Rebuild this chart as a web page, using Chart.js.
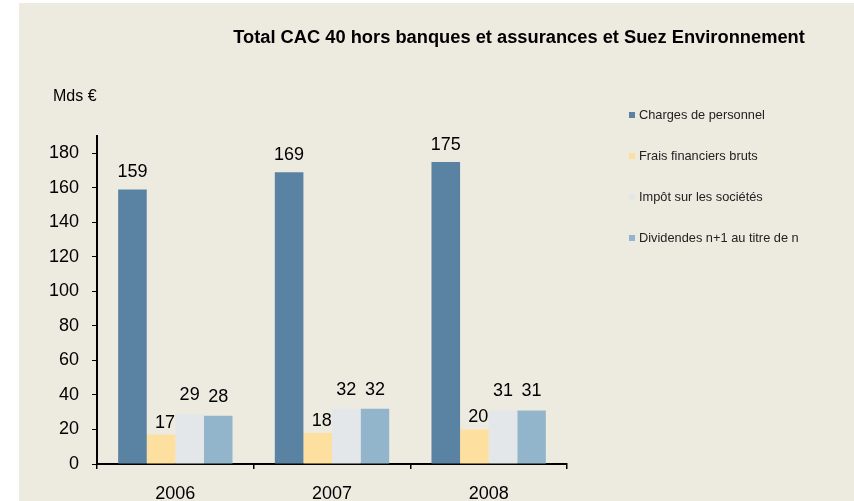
<!DOCTYPE html>
<html>
<head>
<meta charset="utf-8">
<script src="https://cdn.jsdelivr.net/npm/chart.js@4/dist/chart.umd.min.js"></script>
<style>
    html, body { margin: 0; padding: 0; background: #fff; }
    #wrap { position: absolute; left: 19px; top: 3px; width: 835px; height: 498px; background: #EDEAE0; }
</style>
</head>
<body>
<div id="wrap"><canvas id="chart"></canvas></div>
<script>
const years = ['2006', '2007', '2008'];
const seriesNames = ['Charges de personnel', 'Frais financiers bruts', 'Impôt sur les sociétés', 'Dividendes n+1 au titre de n'];
const chargesPersonnel = [159, 169, 175];
const fraisFinanciers = [17, 18, 20];
const impotSocietes = [29, 32, 31];
const dividendes = [28, 32, 31];
const yTicks = [0, 20, 40, 60, 80, 100, 120, 140, 160, 180];
const chartTitle = 'Total CAC 40 hors banques et assurances et Suez Environnement';
const unitLabel = 'Mds €';

const colors = ['#5A82A3', '#FDDFA0', '#E4E7EA', '#93B5CC'];
const labelOffsets = [17, 12, 19, 19];
const labelShifts = [0, 4, 0, 0];
const font = "'Liberation Sans', Arial, sans-serif";

// title, unit, legend and value labels drawn on the canvas
const extras = {
    id: 'extras',
    afterDatasetsDraw(chart) {
        const ctx = chart.ctx;
        ctx.save();
        ctx.fillStyle = '#000';
        ctx.textAlign = 'center';
        ctx.textBaseline = 'middle';
        ctx.font = '18px ' + font;
        chart.data.datasets.forEach((ds, i) => {
            chart.getDatasetMeta(i).data.forEach((bar, j) => {
                ctx.fillText(ds.data[j], bar.x + labelShifts[i], bar.y - labelOffsets[i]);
            });
        });

        ctx.font = 'bold 18.3px ' + font;
        ctx.fillText(chartTitle, 500, 35);

        ctx.textAlign = 'left';
        ctx.font = '16px ' + font;
        ctx.fillText(unitLabel, 34, 94);

        ctx.font = '12.8px ' + font;
        chart.data.datasets.forEach((ds, i) => {
            let y = 112 + i * 41;
            ctx.fillStyle = ds.backgroundColor;
            ctx.fillRect(610, y - 3, 6, 6);
            ctx.fillStyle = '#222';
            ctx.fillText(ds.label, 620, y);
        });
        ctx.restore();
    }
};

new Chart(document.getElementById('chart'), {
    type: 'bar',
    data: {
        labels: years,
        datasets: [chargesPersonnel, fraisFinanciers, impotSocietes, dividendes].map((values, i) => ({
            label: seriesNames[i],
            data: values,
            backgroundColor: colors[i],
            borderWidth: 0,
            barPercentage: 1,
            categoryPercentage: 0.73
        }))
    },
    options: {
        responsive: true,
        maintainAspectRatio: false,
        animation: false,
        layout: {
            padding: { top: 133, right: 287, left: 0, bottom: 0 }
        },
        plugins: {
            legend: { display: false },
            tooltip: { enabled: false }
        },
        scales: {
            x: {
                grid: {
                    offset: true,
                    drawOnChartArea: false,
                    color: '#000',
                    tickLength: 5,
                    lineWidth: 1.5
                },
                border: { color: '#000', width: 2 },
                ticks: {
                    color: '#000',
                    padding: 14,
                    font: { family: font, size: 18 }
                },
                afterFit: scale => { scale.height = 37; }
            },
            y: {
                min: 0,
                max: 190,
                grid: {
                    drawOnChartArea: false,
                    color: '#000',
                    tickLength: 5,
                    lineWidth: 1
                },
                border: { color: '#000', width: 2 },
                afterBuildTicks: scale => {
                    scale.ticks = yTicks.map(v => ({ value: v }));
                },
                ticks: {
                    color: '#000',
                    padding: 13,
                    font: { family: font, size: 18 }
                },
                afterFit: scale => { scale.width = 78; }
            }
        }
    },
    plugins: [extras]
});
</script>
</body>
</html>
